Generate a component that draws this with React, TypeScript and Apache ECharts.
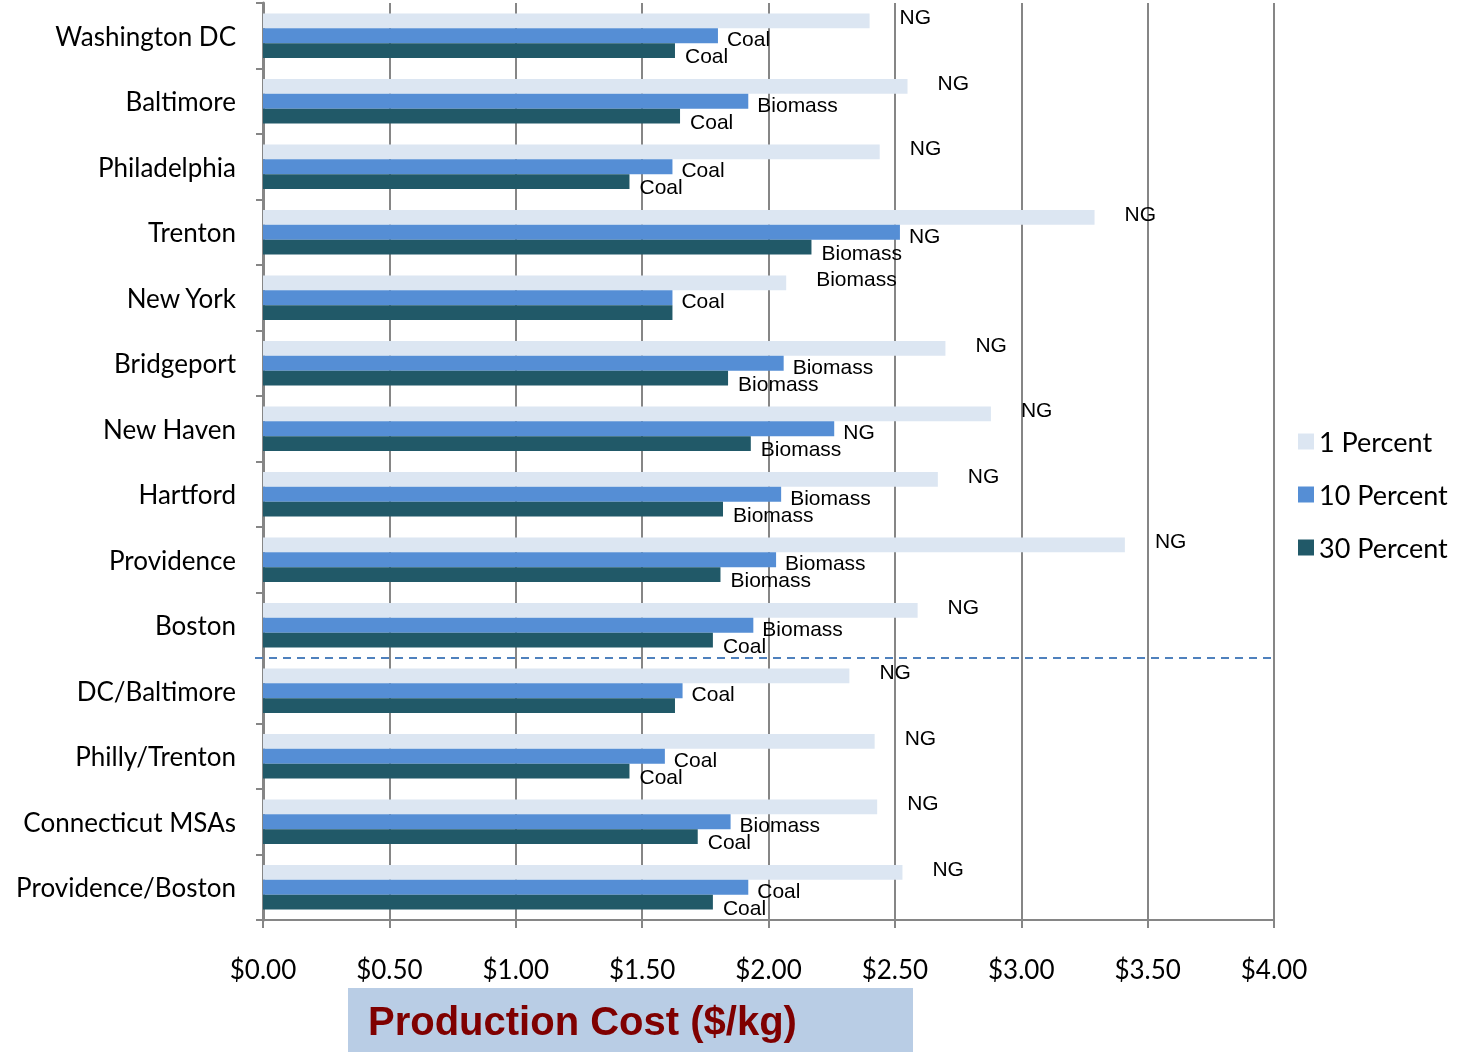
import React, { useEffect, useRef } from "react";
import * as echarts from "echarts";

// Metro areas, top to bottom
const categories = [
  "Washington DC",
  "Baltimore",
  "Philadelphia",
  "Trenton",
  "New York",
  "Bridgeport",
  "New Haven",
  "Hartford",
  "Providence",
  "Boston",
  "DC/Baltimore",
  "Philly/Trenton",
  "Connecticut MSAs",
  "Providence/Boston",
];

const seriesNames = ["1 Percent", "10 Percent", "30 Percent"];

// Production cost ($/kg) by market penetration
const cost1 = [2.40, 2.55, 2.44, 3.29, 2.07, 2.70, 2.88, 2.67, 3.41, 2.59, 2.32, 2.42, 2.43, 2.53];
const cost10 = [1.80, 1.92, 1.62, 2.52, 1.62, 2.06, 2.26, 2.05, 2.03, 1.94, 1.66, 1.59, 1.85, 1.92];
const cost30 = [1.63, 1.65, 1.45, 2.17, 1.62, 1.84, 1.93, 1.82, 1.81, 1.78, 1.63, 1.45, 1.72, 1.78];

// Lowest-cost feedstock for each bar
const fuel1 = ["NG", "NG", "NG", "NG", "Biomass", "NG", "NG", "NG", "NG", "NG", "NG", "NG", "NG", "NG"];
const fuel10 = ["Coal", "Biomass", "Coal", "NG", "Coal", "Biomass", "NG", "Biomass", "Biomass", "Biomass", "Coal", "Coal", "Biomass", "Coal"];
const fuel30 = ["Coal", "Coal", "Coal", "Biomass", "", "Biomass", "Biomass", "Biomass", "Biomass", "Coal", "", "Coal", "Coal", "Coal"];

const xTicks = { min: 0, max: 4, interval: 0.5 };

const colors = ["#dce6f2", "#558ed5", "#215968"];
const gridGrey = "#868686";
const uiFont = "Lato, 'Open Sans', sans-serif";
const labelFont = "'Liberation Sans', Arial, sans-serif";

export default function App() {
  const ref = useRef<HTMLDivElement>(null);

  useEffect(() => {
    if (!ref.current) return;
    const chart = echarts.init(ref.current, undefined, { renderer: "svg" });

    const mkSeries = (
      name: string,
      data: number[],
      fuels: string[],
      color: string,
      distance: number,
      dy: number
    ) => ({
      name,
      type: "bar",
      data,
      barGap: "0%",
      barCategoryGap: "32%",
      itemStyle: { color },
      label: {
        show: true,
        position: "right",
        distance,
        offset: [0, dy],
        formatter: (p: any) => fuels[p.dataIndex],
        color: "#000",
        fontFamily: labelFont,
        fontSize: 21,
      },
    });

    chart.setOption({
      animation: false,
      grid: { left: 263, right: 183, top: 3, bottom: 132, containLabel: false },
      legend: {
        orient: "vertical",
        left: 1293,
        top: 423,
        itemWidth: 16,
        itemHeight: 16,
        itemGap: 26,
        icon: "rect",
        data: seriesNames,
        textStyle: { fontFamily: uiFont, fontSize: 27, color: "#000" },
      },
      xAxis: {
        type: "value",
        min: xTicks.min,
        max: xTicks.max,
        interval: xTicks.interval,
        axisLine: { show: true, lineStyle: { color: gridGrey, width: 2 } },
        axisTick: { show: true, length: 8, lineStyle: { color: gridGrey, width: 2 } },
        splitLine: { show: true, lineStyle: { color: gridGrey, width: 2 } },
        axisLabel: {
          margin: 36,
          formatter: (v: number) => "$" + v.toFixed(2),
          fontFamily: uiFont,
          fontSize: 26,
          color: "#000",
        },
      },
      yAxis: {
        type: "category",
        data: categories,
        inverse: true,
        axisLine: { show: true, lineStyle: { color: gridGrey, width: 3 } },
        axisTick: { show: true, length: 7, lineStyle: { color: gridGrey, width: 2 } },
        axisLabel: {
          margin: 27,
          fontFamily: uiFont,
          fontSize: 26,
          color: "#000",
        },
      },
      series: [
        mkSeries(seriesNames[0], cost1, fuel1, colors[0], 30, -4),
        mkSeries(seriesNames[1], cost10, fuel10, colors[1], 9, 3),
        mkSeries(seriesNames[2], cost30, fuel30, colors[2], 10, 5),
      ],
    });

    // Divider between single metro areas and combined regions
    const yA = chart.convertToPixel({ yAxisIndex: 0 }, 9) as number;
    const yB = chart.convertToPixel({ yAxisIndex: 0 }, 10) as number;
    const yMid = (yA + yB) / 2;
    const x0 = chart.convertToPixel({ xAxisIndex: 0 }, xTicks.min) as number;
    const x1 = chart.convertToPixel({ xAxisIndex: 0 }, xTicks.max) as number;

    chart.setOption({
      graphic: [
        {
          type: "line",
          shape: { x1: x0 - 8, y1: yMid, x2: x1, y2: yMid },
          style: { stroke: "#4f81bd", lineWidth: 2, lineDash: [8, 6] },
          z: 10,
        },
        {
          type: "rect",
          shape: { x: 348, y: 988, width: 565, height: 64 },
          style: { fill: "#b9cde5" },
        },
        {
          type: "text",
          x: 368,
          y: 1021,
          style: {
            text: "Production Cost ($/kg)",
            fill: "#7f0000",
            font: "bold 40px 'Liberation Sans', Arial, sans-serif",
            verticalAlign: "middle",
          },
        },
      ],
    });

    return () => chart.dispose();
  }, []);

  return (
    <div
      ref={ref}
      style={{ position: "fixed", left: 0, top: 0, width: 1457, height: 1052 }}
    />
  );
}
